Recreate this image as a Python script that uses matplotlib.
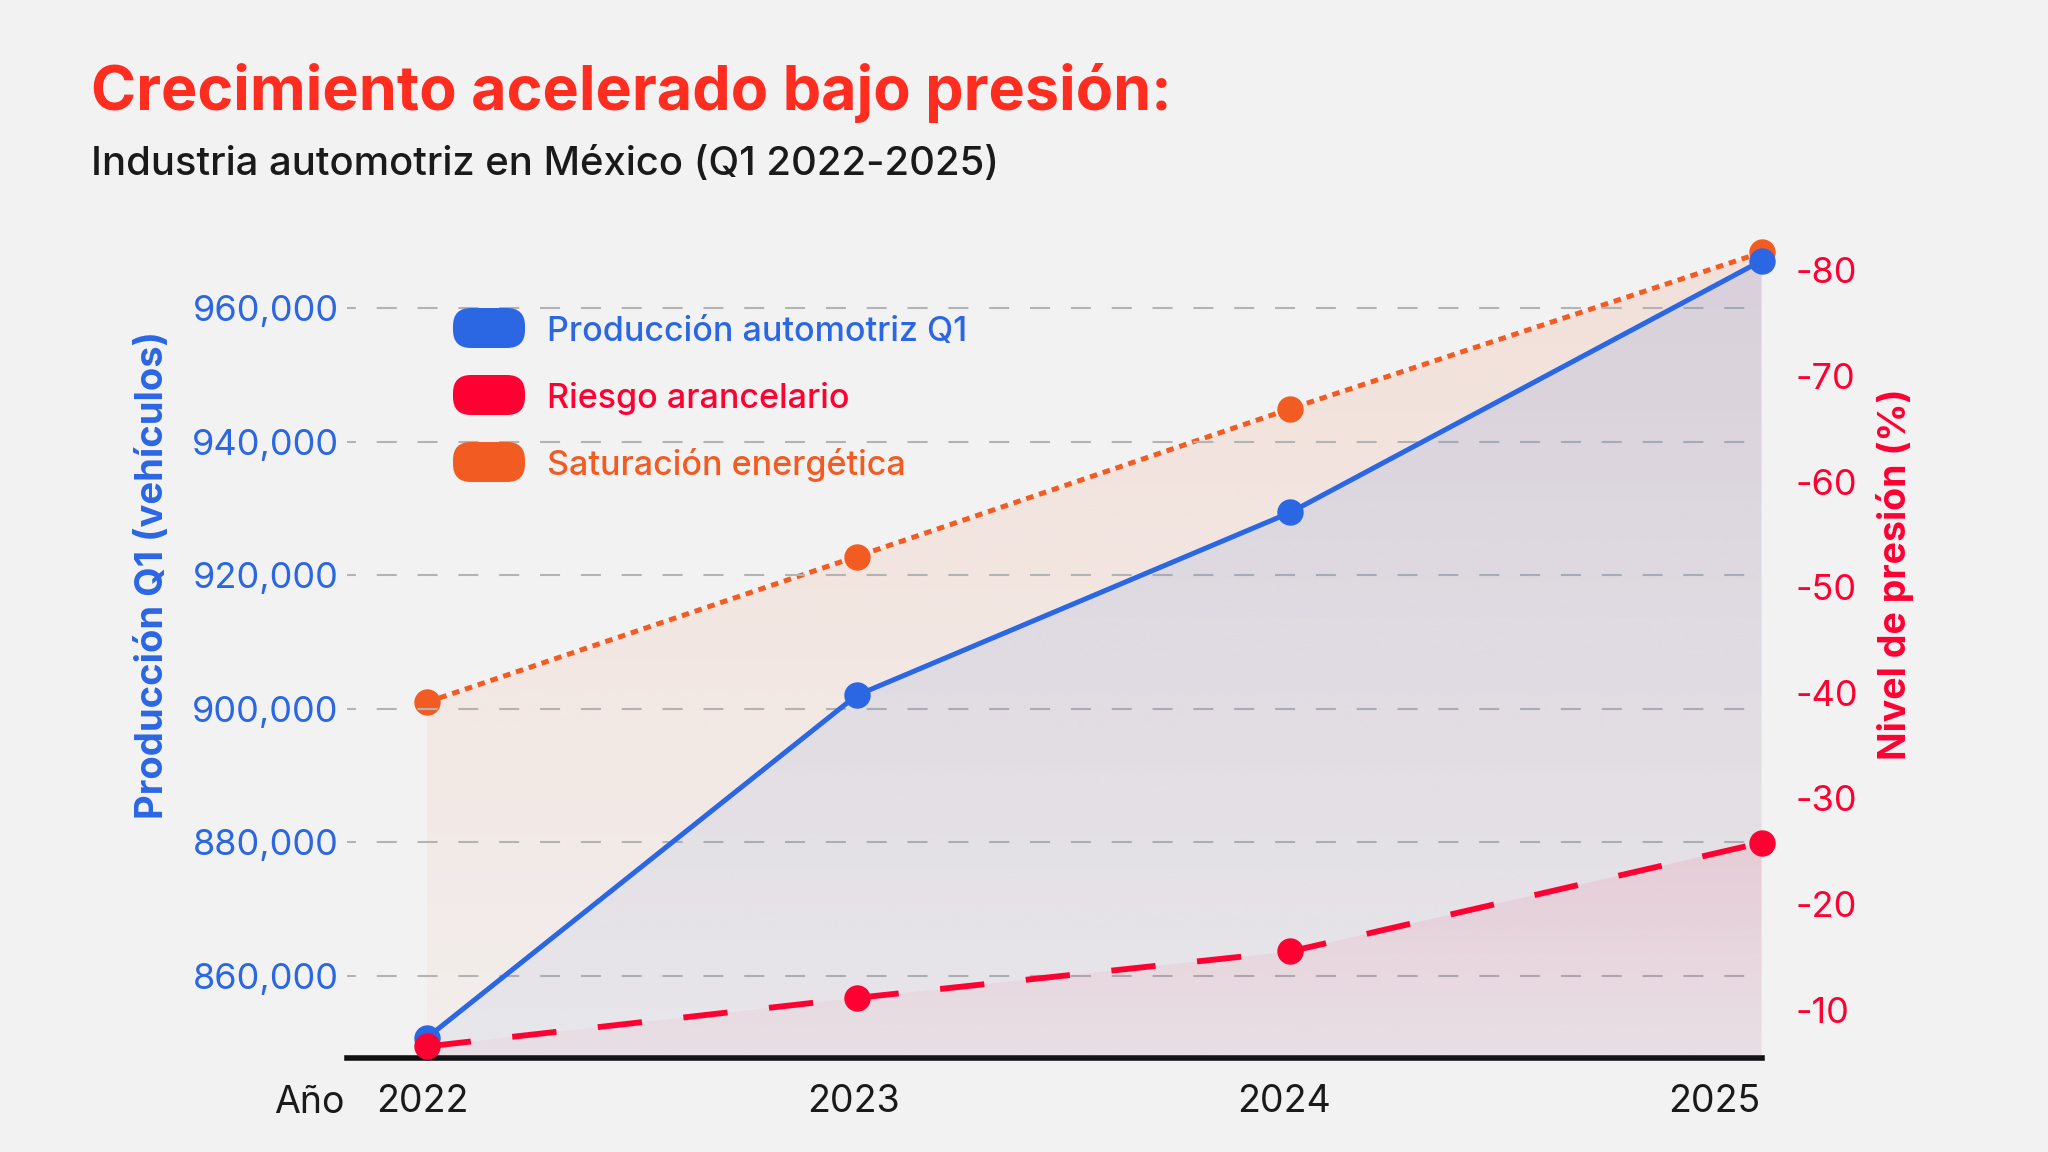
import numpy as np
import matplotlib
matplotlib.use("Agg")
import matplotlib.pyplot as plt
import matplotlib.colors as mcolors
from matplotlib.patches import FancyBboxPatch

plt.rcParams['font.family'] = ['Inter', 'DejaVu Sans']
plt.rcParams['axes.unicode_minus'] = False
plt.rcParams['lines.scale_dashes'] = False

# data
years = [2022, 2023, 2024, 2025]
# point positions on the time axis (decimal years, as placed in the chart)
x_pos = [2022.01, 2023.008, 2024.015, 2025.109]
produccion = [850700, 902000, 929400, 967100]
riesgo = [-6.5, -11.1, -15.5, -25.8]
saturacion = [-39.1, -52.9, -66.9, -81.7]

prod_ticks = [860000, 880000, 900000, 920000, 940000, 960000]
pres_ticks = [-80, -70, -60, -50, -40, -30, -20, -10]
series_names = ["Producción automotriz Q1", "Riesgo arancelario", "Saturación energética"]

BG = '#f2f2f2'
BLUE = '#2b66e3'
RED = '#ff0033'
ORANGE = '#f25c22'
TITLE_RED = '#ff2d20'
DARK = '#1a1a1a'

W, H = 2048, 1152


def gradient_area(ax, x, y, base, top, color, a_top, a_bot, z):
    fill = ax.fill_between(x, y, base, facecolor='none', edgecolor='none', zorder=z)
    path = fill.get_paths()[0]
    grad = np.zeros((256, 1, 4))
    grad[..., :3] = mcolors.to_rgb(color)
    grad[..., 3] = np.linspace(a_top, a_bot, 256)[:, None]
    im = ax.imshow(grad, aspect='auto', origin='upper', interpolation='bilinear',
                   extent=[x[0], x[-1], base, top], zorder=z)
    im.set_clip_path(path, transform=ax.transData)


fig = plt.figure(figsize=(W / 100, H / 100), dpi=100, facecolor=BG)

rect = [347 / W, 1 - 1058 / H, (1762 - 347) / W, (1058 - 240) / H]
ax_o = fig.add_axes(rect)
ax_b = ax_o.twinx()
ax_r = ax_o.twinx()

xlim = (2021.825, 2025.11)
prod_lim = (847700, 970200)
pres_lim = (-5.41, -82.88)


def set_limits():
    for a in (ax_o, ax_b, ax_r):
        a.set_xlim(*xlim)
    ax_o.set_ylim(*pres_lim)
    ax_r.set_ylim(*pres_lim)
    ax_b.set_ylim(*prod_lim)


for a in (ax_o, ax_b, ax_r):
    a.set_facecolor('none')
    a.patch.set_visible(False)
    for s in a.spines.values():
        s.set_visible(False)
set_limits()

xs = np.array(x_pos)

# areas
gradient_area(ax_o, xs, np.array(saturacion), pres_lim[0], min(saturacion),
              ORANGE, 0.12, 0.03, 1)
gradient_area(ax_b, xs, np.array(produccion), prod_lim[0], max(produccion),
              BLUE, 0.13, 0.05, 1)
gradient_area(ax_r, xs, np.array(riesgo), pres_lim[0], min(riesgo),
              RED, 0.09, 0.03, 1)

# lines
ax_o.plot(xs, saturacion, color=ORANGE, lw=3.6, linestyle=(0, (5.4, 4.3)),
          dash_capstyle='butt', marker='o', markersize=18, zorder=3, clip_on=False)
ax_b.plot(xs, produccion, color=BLUE, lw=3.6, marker='o', markersize=18,
          zorder=3, clip_on=False)
ax_r.plot(xs, riesgo, color=RED, lw=4.2, linestyle=(0, (32, 30)),
          dash_capstyle='butt', marker='o', markersize=18, zorder=3, clip_on=False)

set_limits()

# grid from the production axis
ax_b.set_axisbelow(True)
ax_b.yaxis.grid(True, color='#b3b3b3', lw=1.5, linestyle=(8, (14.4, 15)))

# left axis (production)
ax_b.yaxis.tick_left()
ax_b.set_yticks(prod_ticks)
ax_b.set_yticklabels([f"{v:,}" for v in prod_ticks])
ax_b.tick_params(axis='y', length=0, pad=6, labelsize=26, labelcolor=BLUE)

# right axis (pressure)
ax_o.yaxis.tick_right()
ax_o.set_yticks(pres_ticks)
ax_o.set_yticklabels([str(v) for v in pres_ticks])
ax_o.tick_params(axis='y', length=0, pad=24, labelsize=26, labelcolor=RED)
ax_r.set_yticks([])

# x axis
ax_o.spines['bottom'].set_visible(True)
ax_o.spines['bottom'].set_linewidth(4)
ax_o.spines['bottom'].set_color('#111111')
ax_o.spines['bottom'].set_capstyle('projecting')
ax_o.set_xticks(years)
ax_o.set_xticklabels([str(y) for y in years])
ax_o.tick_params(axis='x', length=0, pad=19, labelsize=27, labelcolor=DARK)

fig.text(274 / W, 1 - 1103 / H, "Año", fontsize=27, color=DARK, va='center', ha='left')

# axis titles
fig.text(153 / W, 1 - 575 / H, "Producción Q1 (vehículos)", rotation=90, fontsize=27.5,
         fontweight='bold', color=BLUE, ha='center', va='center')
fig.text(1895 / W, 1 - 574 / H, "Nivel de presión (%)", rotation=90, fontsize=27,
         fontweight='bold', color=RED, ha='center', va='center')

# titles
fig.text(91 / W, 1 - 110 / H, "Crecimiento acelerado bajo presión:", fontsize=44,
         fontweight='bold', color=TITLE_RED, ha='left', va='baseline')
fig.text(91 / W, 1 - 175 / H, "Industria automotriz en México (Q1 2022-2025)", fontsize=28.8,
         fontweight='medium', color=DARK, ha='left', va='baseline')

# legend with rounded swatches
for i, (name, col) in enumerate(zip(series_names, [BLUE, RED, ORANGE])):
    cy = 328 + i * 67
    box = FancyBboxPatch((453 / W, 1 - (cy + 20) / H), 72 / W, 40 / H,
                         boxstyle="round,pad=0,rounding_size=%f" % (18 / W),
                         mutation_aspect=W / H, transform=fig.transFigure,
                         facecolor=col, edgecolor='none')
    fig.patches.append(box)
    fig.text(547 / W, 1 - (cy + 13) / H, name, fontsize=24.5, fontweight='medium', color=col,
             ha='left', va='baseline')

fig.savefig("out.png", dpi=100, facecolor=BG)
